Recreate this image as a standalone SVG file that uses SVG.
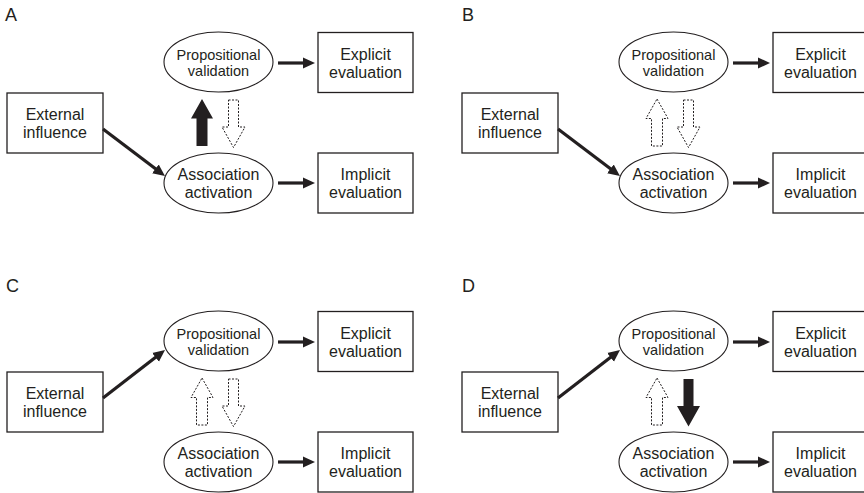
<svg xmlns="http://www.w3.org/2000/svg" width="864" height="493" viewBox="0 0 864 493">
<defs>
<style>
text{font-family:"Liberation Sans",Arial,sans-serif;fill:#231f20;text-anchor:middle}
.lbl{font-size:18px;text-anchor:start}
.t{font-size:16px}
.ts{font-size:14.5px}
.box{fill:#fff;stroke:#231f20;stroke-width:1.3}
.ell{fill:#fff;stroke:#231f20;stroke-width:1.1}
.ln{stroke:#231f20;stroke-width:3.2;fill:none;marker-end:url(#ah)}
.solid{fill:#231f20;stroke:none}
.dot{fill:#fff;stroke:#231f20;stroke-width:1;stroke-dasharray:2 1.5}
</style>
<marker id="ah" viewBox="0 0 12 12" markerWidth="12" markerHeight="12" markerUnits="userSpaceOnUse" refX="3" refY="6" orient="auto">
<path d="M0,0.5 L12,6 L0,11.5 Z" fill="#231f20"/>
</marker>
<polygon id="up" points="202,99 213,118.5 207.5,118.5 207.5,146 196.5,146 196.5,118.5 191,118.5"/>
<polygon id="down" points="228.5,100 238.5,100 238.5,127 245,127 233.5,147.5 222,127 228.5,127"/>
</defs>

<!-- Panel A -->
<g id="panelA">
<text class="lbl" x="5" y="21">A</text>
<g id="A-ext"><rect class="box" x="7" y="93" width="96" height="60"/><text class="t" x="55" y="120">External</text><text class="t" x="55" y="138">influence</text></g>
<g id="A-prop"><ellipse class="ell" cx="218.5" cy="62" rx="54.5" ry="30"/><text class="ts" x="218.5" y="59.5">Propositional</text><text class="ts" x="218.5" y="76">validation</text></g>
<g id="A-assoc"><ellipse class="ell" cx="218.5" cy="183" rx="54.5" ry="30"/><text class="t" x="218.5" y="179.5">Association</text><text class="t" x="218.5" y="198">activation</text></g>
<g id="A-expl"><rect class="box" x="318" y="32.5" width="95" height="60"/><text class="t" x="365.5" y="59.5">Explicit</text><text class="t" x="365.5" y="78">evaluation</text></g>
<g id="A-impl"><rect class="box" x="318" y="153" width="95" height="60"/><text class="t" x="365.5" y="179.5">Implicit</text><text class="t" x="365.5" y="198">evaluation</text></g>
<g id="A-connectors">
<line class="ln" x1="103" y1="129" x2="157.8" y2="170.6"/>
<line class="ln" x1="278" y1="63" x2="306" y2="63"/>
<line class="ln" x1="278" y1="183" x2="306" y2="183"/>
<use href="#up" class="solid"/>
<use href="#down" class="dot"/>
</g>
</g>

<!-- Panel B -->
<g id="panelB" transform="translate(455,0)">
<text class="lbl" x="7" y="21">B</text>
<g id="B-ext"><rect class="box" x="7" y="93" width="96" height="60"/><text class="t" x="55" y="120">External</text><text class="t" x="55" y="138">influence</text></g>
<g id="B-prop"><ellipse class="ell" cx="218.5" cy="62" rx="54.5" ry="30"/><text class="ts" x="218.5" y="59.5">Propositional</text><text class="ts" x="218.5" y="76">validation</text></g>
<g id="B-assoc"><ellipse class="ell" cx="218.5" cy="183" rx="54.5" ry="30"/><text class="t" x="218.5" y="179.5">Association</text><text class="t" x="218.5" y="198">activation</text></g>
<g id="B-expl"><rect class="box" x="318" y="32.5" width="95" height="60"/><text class="t" x="365.5" y="59.5">Explicit</text><text class="t" x="365.5" y="78">evaluation</text></g>
<g id="B-impl"><rect class="box" x="318" y="153" width="95" height="60"/><text class="t" x="365.5" y="179.5">Implicit</text><text class="t" x="365.5" y="198">evaluation</text></g>
<g id="B-connectors">
<line class="ln" x1="103" y1="129" x2="157.8" y2="170.6"/>
<line class="ln" x1="278" y1="63" x2="306" y2="63"/>
<line class="ln" x1="278" y1="183" x2="306" y2="183"/>
<use href="#up" class="dot"/>
<use href="#down" class="dot"/>
</g>
</g>

<!-- Panel C -->
<g id="panelC" transform="translate(0,279)">
<text class="lbl" x="6" y="13">C</text>
<g id="C-ext"><rect class="box" x="7" y="93" width="96" height="60"/><text class="t" x="55" y="120">External</text><text class="t" x="55" y="138">influence</text></g>
<g id="C-prop"><ellipse class="ell" cx="218.5" cy="62" rx="54.5" ry="30"/><text class="ts" x="218.5" y="59.5">Propositional</text><text class="ts" x="218.5" y="76">validation</text></g>
<g id="C-assoc"><ellipse class="ell" cx="218.5" cy="183" rx="54.5" ry="30"/><text class="t" x="218.5" y="179.5">Association</text><text class="t" x="218.5" y="198">activation</text></g>
<g id="C-expl"><rect class="box" x="318" y="32.5" width="95" height="60"/><text class="t" x="365.5" y="59.5">Explicit</text><text class="t" x="365.5" y="78">evaluation</text></g>
<g id="C-impl"><rect class="box" x="318" y="153" width="95" height="60"/><text class="t" x="365.5" y="179.5">Implicit</text><text class="t" x="365.5" y="198">evaluation</text></g>
<g id="C-connectors">
<line class="ln" x1="103" y1="119" x2="157.9" y2="76.5"/>
<line class="ln" x1="278" y1="63" x2="306" y2="63"/>
<line class="ln" x1="278" y1="183" x2="306" y2="183"/>
<use href="#up" class="dot"/>
<use href="#down" class="dot"/>
</g>
</g>

<!-- Panel D -->
<g id="panelD" transform="translate(455,279)">
<text class="lbl" x="7" y="13">D</text>
<g id="D-ext"><rect class="box" x="7" y="93" width="96" height="60"/><text class="t" x="55" y="120">External</text><text class="t" x="55" y="138">influence</text></g>
<g id="D-prop"><ellipse class="ell" cx="218.5" cy="62" rx="54.5" ry="30"/><text class="ts" x="218.5" y="59.5">Propositional</text><text class="ts" x="218.5" y="76">validation</text></g>
<g id="D-assoc"><ellipse class="ell" cx="218.5" cy="183" rx="54.5" ry="30"/><text class="t" x="218.5" y="179.5">Association</text><text class="t" x="218.5" y="198">activation</text></g>
<g id="D-expl"><rect class="box" x="318" y="32.5" width="95" height="60"/><text class="t" x="365.5" y="59.5">Explicit</text><text class="t" x="365.5" y="78">evaluation</text></g>
<g id="D-impl"><rect class="box" x="318" y="153" width="95" height="60"/><text class="t" x="365.5" y="179.5">Implicit</text><text class="t" x="365.5" y="198">evaluation</text></g>
<g id="D-connectors">
<line class="ln" x1="103" y1="119" x2="157.9" y2="76.5"/>
<line class="ln" x1="278" y1="63" x2="306" y2="63"/>
<line class="ln" x1="278" y1="183" x2="306" y2="183"/>
<use href="#up" class="dot"/>
<use href="#down" class="solid"/>
</g>
</g>
</svg>
